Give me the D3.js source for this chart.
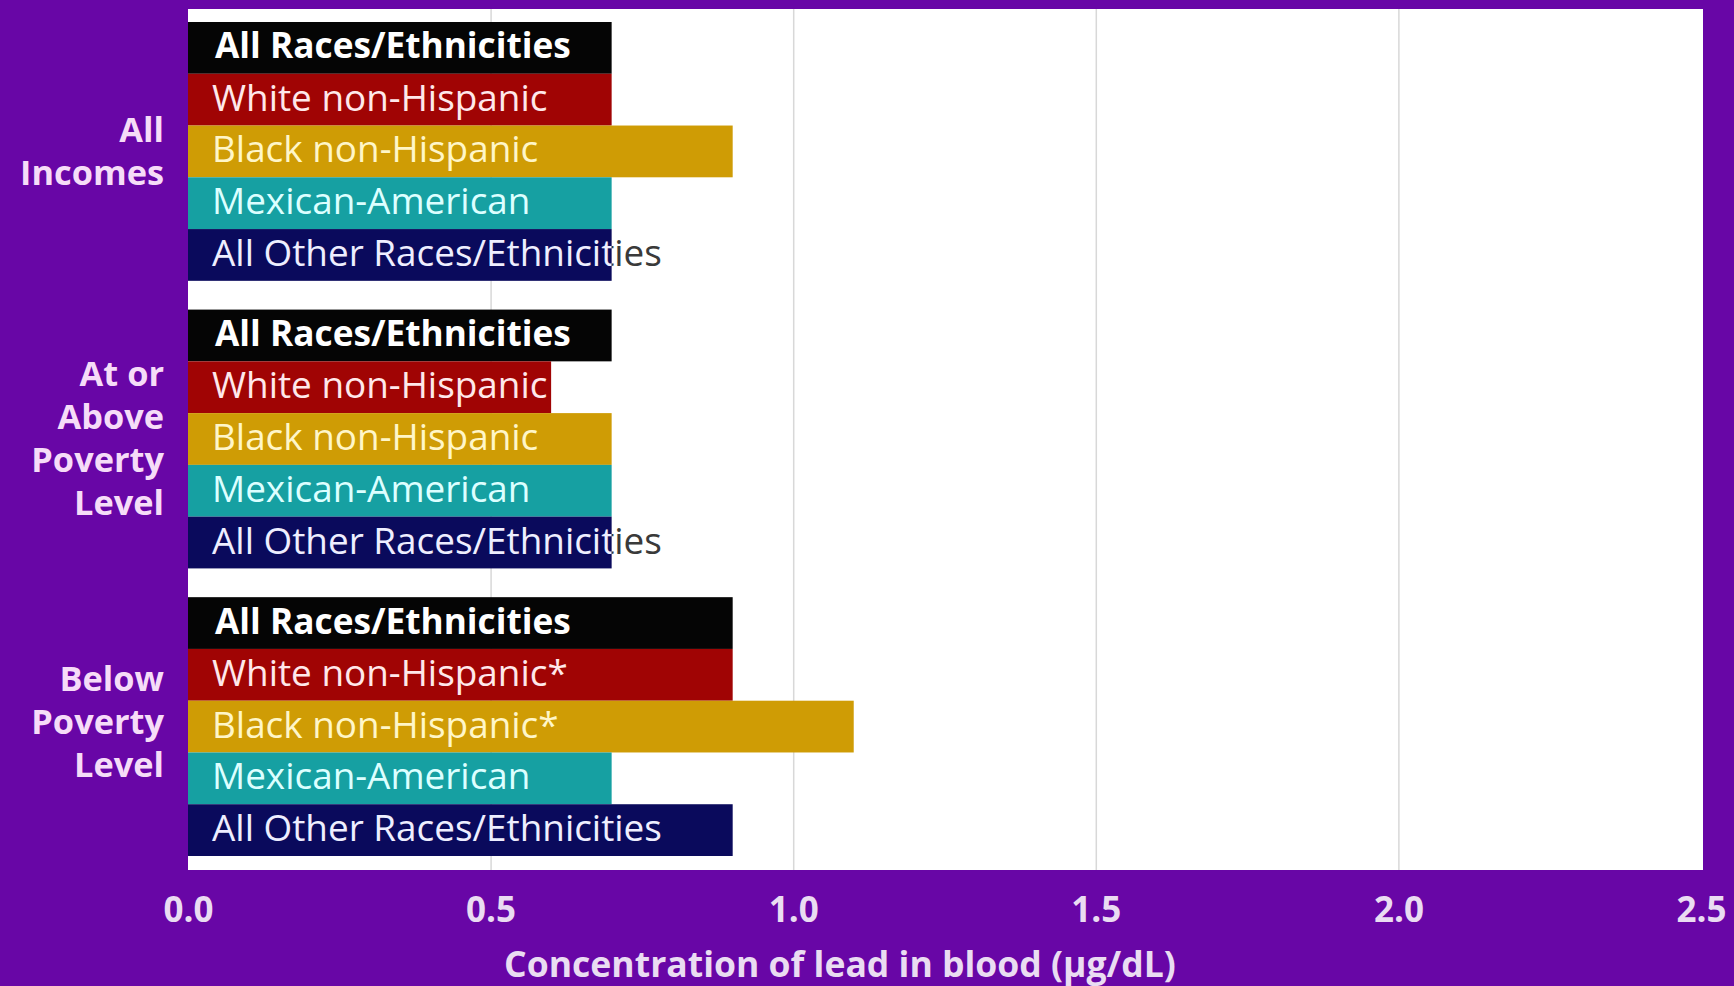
<!DOCTYPE html>
<html><head><meta charset="utf-8">
<script src="https://cdn.jsdelivr.net/npm/d3@7"></script>
<style>html,body{margin:0;padding:0;background:#6806a6;}svg{display:block;}</style>
</head><body>
<script>
const groups = ["All Incomes", "At or Above Poverty Level", "Below Poverty Level"];
const groupLines = [["All", "Incomes"], ["At or", "Above", "Poverty", "Level"], ["Below", "Poverty", "Level"]];
const races = ["All Races/Ethnicities", "White non-Hispanic", "Black non-Hispanic", "Mexican-American", "All Other Races/Ethnicities"];
const allIncomes = [0.7, 0.7, 0.9, 0.7, 0.7];
const atOrAbove = [0.7, 0.6, 0.7, 0.7, 0.7];
const belowPoverty = [0.9, 0.9, 1.1, 0.7, 0.9];
const belowLabels = ["All Races/Ethnicities", "White non-Hispanic*", "Black non-Hispanic*", "Mexican-American", "All Other Races/Ethnicities"];
const xTicks = [0, 0.5, 1.0, 1.5, 2.0, 2.5];
const xTitle = "Concentration of lead in blood (\u00b5g/dL)";

const colors = ["#050505", "#a00404", "#cf9c05", "#16a0a2", "#0a0a5c"];
const textColors = ["#ffffff", "#ffe8ea", "#fff6c8", "#dcffff", "#eeeeff"];
const FONT = "'Open Sans', sans-serif";

const W = 1734, H = 986;
const svg = d3.select("body").append("svg").attr("width", W).attr("height", H);
svg.append("rect").attr("width", W).attr("height", H).attr("fill", "#6806a6");

// helper: font size that makes a sample string reach a target width
function fitSize(sample, weight, target) {
  const t = svg.append("text").attr("font-family", FONT).attr("font-weight", weight).attr("font-size", 100).text(sample);
  const w = t.node().getComputedTextLength();
  t.remove();
  return 100 * target / w;
}
const barFs = fitSize("All Other Races/Ethnicities", "normal", 450);
const barBoldFs = fitSize("All Races/Ethnicities", "bold", 356);
const grpFs = fitSize("Incomes", "bold", 144);
const tickFs = fitSize("0.0", "bold", 50);
const titleFs = fitSize(xTitle, "bold", 672);

const plot = {l: 188, r: 1703, t: 9, b: 870};
const x = d3.scaleLinear().domain([0, 2.5]).range([188, 1701]);
const yGroup = d3.scaleBand().domain(groups).range([22, 856]).paddingInner(0.1);
const yRace = d3.scaleBand().domain(d3.range(races.length)).range([0, yGroup.bandwidth()]);

svg.append("rect").attr("x", plot.l).attr("y", plot.t).attr("width", plot.r - plot.l).attr("height", plot.b - plot.t).attr("fill", "#ffffff");

// gridlines
svg.append("g").attr("transform", `translate(0,${plot.b})`)
  .call(d3.axisBottom(x).tickValues(xTicks.filter(t => t > 0 && t < 2.5)).tickSize(-(plot.b - plot.t)).tickFormat(""))
  .call(g => g.select(".domain").remove())
  .call(g => g.selectAll("line").attr("stroke", "#d8d8d8").attr("stroke-width", 1.5));

// x axis labels
svg.append("g").attr("transform", `translate(0,${plot.b})`)
  .call(d3.axisBottom(x).tickValues(xTicks).tickSize(0).tickPadding(27).tickFormat(d3.format(".1f")))
  .call(g => g.select(".domain").remove())
  .call(g => g.selectAll("text").attr("fill", "#eadcf2").attr("font-family", FONT).attr("font-weight", "bold").attr("font-size", tickFs));

svg.append("text").attr("x", 840).attr("y", 977).attr("text-anchor", "middle")
  .attr("fill", "#eadcf2").attr("font-family", FONT).attr("font-weight", "bold").attr("font-size", titleFs)
  .text(xTitle);

const data = [allIncomes, atOrAbove, belowPoverty];
const labelSets = [races, races, belowLabels];
const defs = svg.append("defs");

groups.forEach((gname, gi) => {
  const gy = yGroup(gname);
  data[gi].forEach((v, ri) => {
    const y0 = gy + yRace(ri), h = yRace.bandwidth();
    const id = `clip${gi}_${ri}`;
    defs.append("clipPath").attr("id", id).append("rect")
      .attr("x", x(0)).attr("y", y0).attr("width", x(v) - x(0)).attr("height", h);
    const idOut = `clipo${gi}_${ri}`;
    defs.append("clipPath").attr("id", idOut).append("rect")
      .attr("x", x(v)).attr("y", y0).attr("width", 1000).attr("height", h);
    svg.append("rect").attr("x", x(0)).attr("y", y0).attr("width", x(v) - x(0)).attr("height", h).attr("fill", colors[ri]);
    const txt = labelSets[gi][ri];
    const common = sel => sel.attr("x", ri === 0 ? 215 : 212).attr("y", y0 + h / 2).attr("dy", "0.3em")
      .attr("font-family", FONT).attr("font-size", ri === 0 ? barBoldFs : barFs)
      .attr("font-weight", ri === 0 ? "bold" : "normal").text(txt);
    svg.append("text").call(common).attr("fill", textColors[ri]).attr("clip-path", `url(#${id})`);
    svg.append("text").call(common).attr("fill", "#3a3a3a").attr("clip-path", `url(#${idOut})`);
  });
  // group label
  const lines = groupLines[gi];
  const cy = gy + yGroup.bandwidth() / 2 - (gi === 2 ? 4 : 0);
  const lh = 43;
  const t = svg.append("text").attr("text-anchor", "end").attr("fill", "#f6dcf8")
    .attr("font-family", FONT).attr("font-weight", "bold").attr("font-size", grpFs);
  lines.forEach((ln, li) => {
    t.append("tspan").attr("x", 164).attr("y", cy + (li - (lines.length - 1) / 2) * lh).attr("dy", "0.34em").text(ln);
  });
});
</script>
</body></html>
